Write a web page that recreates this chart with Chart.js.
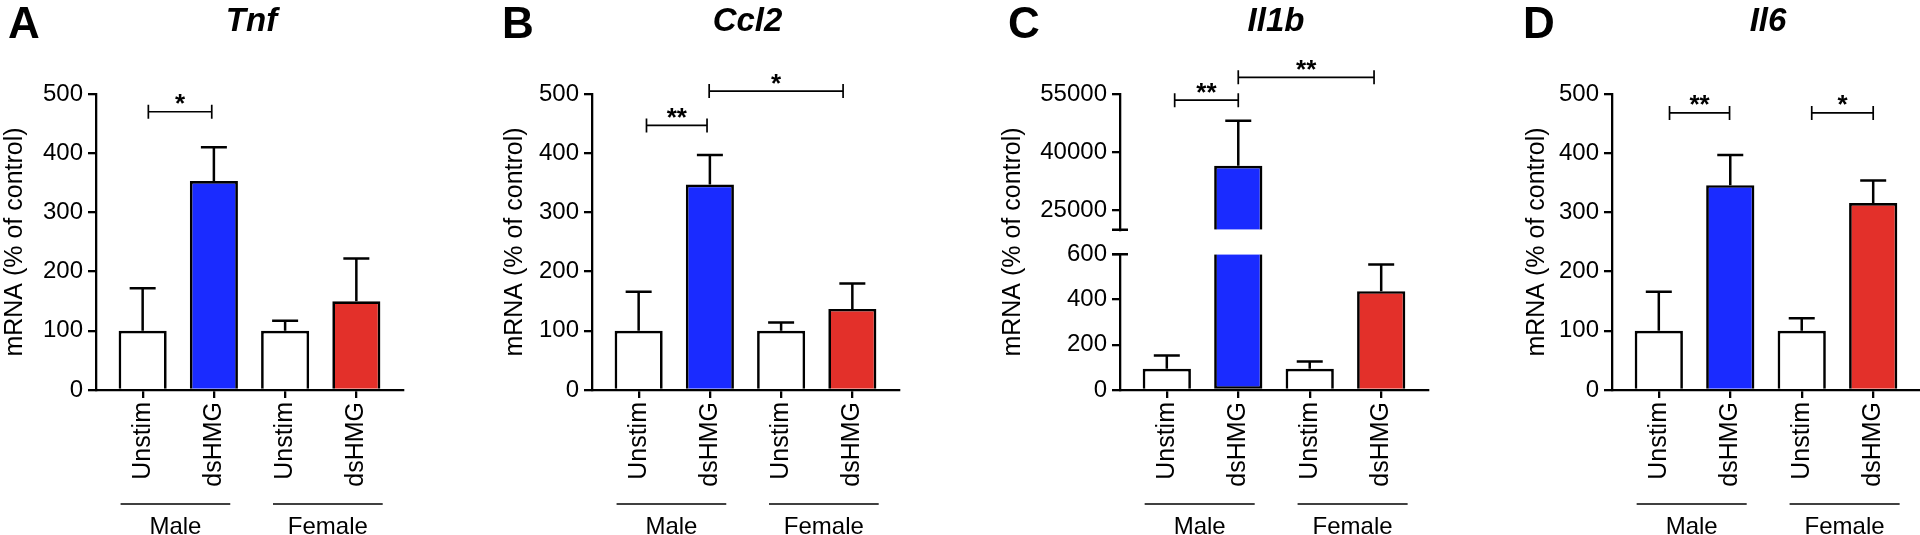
<!DOCTYPE html>
<html>
<head>
<meta charset="utf-8">
<script src="https://cdn.jsdelivr.net/npm/chart.js@4.4.1/dist/chart.umd.min.js"></script>
<style>
html,body{margin:0;padding:0;background:#fff;width:1920px;height:535px;overflow:hidden;}
.panel{position:absolute;top:0;width:480px;height:535px;}
canvas{display:block;}
</style>
</head>
<body>
<div class="panel" style="left:0px"><canvas id="cA" width="480" height="535"></canvas></div>
<div class="panel" style="left:480px"><canvas id="cB" width="480" height="535"></canvas></div>
<div class="panel" style="left:960px"><canvas id="cC" width="480" height="535"></canvas></div>
<div class="panel" style="left:1440px"><canvas id="cD" width="480" height="535"></canvas></div>
<script>
// ---------------- data ----------------
const categories = ['Unstim', 'dsHMG', 'Unstim', 'dsHMG'];
const groupLabels = ['Male', 'Female'];
const groupFrom = [-0.31, 1.83];
const groupTo = [1.23, 3.37];
const panelLetters = ['A', 'B', 'C', 'D'];
const geneNames = ['Tnf', 'Ccl2', 'Il1b', 'Il6'];
const yTitle = 'mRNA (% of control)';

const tnfMean = [100, 353, 100, 150];
const tnfSem  = [72, 57, 17, 72];
const ccl2Mean = [100, 347, 100, 137];
const ccl2Sem  = [66, 50, 14, 43];
const il1bMean = [94, 36500, 94, 437];
const il1bSem  = [59, 11600, 32, 118];
const il6Mean = [100, 346, 100, 316];
const il6Sem  = [66, 51, 21, 38];

// brackets: [fromIndex, toIndex, yValue, label]
const tnfBrackets  = [[0.08, 0.97, 470, '*']];
const ccl2Brackets = [[0.11, 0.96, 447, '**'], [0.99, 2.87, 505, '*']];
const il1bBrackets = [[0.11, 1.0, 53400, '**'], [1.0, 2.9, 59300, '**']];
const il6Brackets  = [[0.15, 0.99, 468, '**'], [2.14, 3.0, 468, '*']];

const yTicksStd = [0, 100, 200, 300, 400, 500];
const il1bLowTicks = [0, 200, 400, 600];
const il1bHighTicks = [25000, 40000, 55000];
const il1bLowRange = [0, 600];
const il1bHighRange = [20000, 55000];

// ---------------- style ----------------
const FONT = '"Liberation Sans", Arial, Helvetica, sans-serif';
const BLUE = '#1a2bff';
const RED = '#e3302a';
const barColors = ['#ffffff', BLUE, '#ffffff', RED];
const LW = 2.3;
const BAR_LW = 2.7;
const AREA_TOP = 94, AREA_BOTTOM = 390, YW = 90, XH = 100, CW = 480, CH = 535;

const layoutCfg = {
  cA: {areaL: 96,  areaR: 403, letterX: 8,  titleX: 15},
  cB: {areaL: 112, areaR: 419, letterX: 22, titleX: 35},
  cC: {areaL: 160, areaR: 468, letterX: 48, titleX: 53},
  cD: {areaL: 172, areaR: 480, letterX: 83, titleX: 97.5}
};

const extras = {
  cA: {letter: panelLetters[0], gene: geneNames[0], means: tnfMean, sems: tnfSem, brackets: tnfBrackets},
  cB: {letter: panelLetters[1], gene: geneNames[1], means: ccl2Mean, sems: ccl2Sem, brackets: ccl2Brackets},
  cC: {letter: panelLetters[2], gene: geneNames[2], means: il1bMean, sems: il1bSem, brackets: il1bBrackets, split: true},
  cD: {letter: panelLetters[3], gene: geneNames[3], means: il6Mean, sems: il6Sem, brackets: il6Brackets}
};

function pickScale(chart, e, v) {
  if (!e.split) return chart.scales.y;
  return v >= il1bHighRange[0] ? chart.scales.yTop : chart.scales.yBot;
}

const decor = {
  id: 'decor',
  afterDraw(chart) {
    const e = extras[chart.canvas.id];
    const L = layoutCfg[chart.canvas.id];
    const ctx = chart.ctx, xs = chart.scales.x, a = chart.chartArea;
    ctx.save();
    ctx.strokeStyle = '#000';
    ctx.fillStyle = '#000';
    // error bars
    ctx.lineWidth = 2.5;
    e.means.forEach((m, i) => {
      const ys = pickScale(chart, e, m);
      const px = xs.getPixelForValue(i);
      const y0 = ys.getPixelForValue(m);
      const y1 = ys.getPixelForValue(m + e.sems[i]);
      ctx.beginPath();
      ctx.moveTo(px, y0); ctx.lineTo(px, y1);
      ctx.moveTo(px - 13, y1); ctx.lineTo(px + 13, y1);
      ctx.stroke();
    });
    // axis break marks
    ctx.lineWidth = LW;
    if (e.split) {
      const xa = a.left;
      const yb1 = chart.scales.yTop.getPixelForValue(il1bHighRange[0]);
      const yb2 = chart.scales.yBot.getPixelForValue(il1bLowRange[1]);
      ctx.beginPath();
      ctx.moveTo(xa - 8, yb1); ctx.lineTo(xa + 8, yb1);
      ctx.moveTo(xa - 8, yb2); ctx.lineTo(xa + 8, yb2);
      ctx.stroke();
    }
    // significance brackets
    ctx.lineWidth = 1.7;
    ctx.textAlign = 'center';
    ctx.textBaseline = 'alphabetic';
    ctx.font = 'bold 26px ' + FONT;
    e.brackets.forEach(b => {
      const ys = pickScale(chart, e, b[2]);
      const x1 = xs.getPixelForValue(b[0]), x2 = xs.getPixelForValue(b[1]);
      const y = ys.getPixelForValue(b[2]);
      ctx.beginPath();
      ctx.moveTo(x1, y); ctx.lineTo(x2, y);
      ctx.moveTo(x1, y - 7); ctx.lineTo(x1, y + 7);
      ctx.moveTo(x2, y - 7); ctx.lineTo(x2, y + 7);
      ctx.stroke();
      ctx.fillText(b[3], (x1 + x2) / 2, y + 0.5);
    });
    // group lines and labels
    ctx.lineWidth = 1.3;
    ctx.font = '24px ' + FONT;
    groupLabels.forEach((g, i) => {
      const x1 = xs.getPixelForValue(groupFrom[i]), x2 = xs.getPixelForValue(groupTo[i]);
      const y = a.bottom + 114;
      ctx.beginPath(); ctx.moveTo(x1, y); ctx.lineTo(x2, y); ctx.stroke();
      ctx.fillText(g, (x1 + x2) / 2, a.bottom + 144);
    });
    // panel letter
    ctx.textAlign = 'left';
    ctx.font = 'bold 44px ' + FONT;
    ctx.fillText(e.letter, L.letterX, 37.5);
    // gene title
    ctx.textAlign = 'center';
    ctx.font = 'italic bold 33px ' + FONT;
    ctx.fillText(e.gene, (a.left + a.right) / 2 + 2, 30.7);
    // y title
    ctx.save();
    ctx.translate(L.titleX, (a.top + a.bottom) / 2);
    ctx.rotate(-Math.PI / 2);
    ctx.textBaseline = 'middle';
    ctx.font = '25px ' + FONT;
    ctx.fillText(yTitle, 0, 0);
    ctx.restore();
    ctx.restore();
  }
};

function gridOpts() {
  return {display: true, drawOnChartArea: false, drawTicks: true, tickLength: 8, color: '#000', lineWidth: LW, offset: false};
}
function borderOpts() {
  return {display: true, color: '#000', width: LW};
}
function xScale() {
  return {
    type: 'linear', min: -0.655, max: 3.655, offset: false,
    afterBuildTicks: s => { s.ticks = categories.map((_, i) => ({value: i})); },
    ticks: {
      callback: v => categories[v], autoSkip: false, maxRotation: 90, minRotation: 90,
      color: '#000', font: {family: FONT, size: 25}, padding: 4
    },
    grid: gridOpts(), border: borderOpts(),
    afterFit: s => { s.height = XH; }
  };
}
function yScale(ticksArr, range, extra) {
  return Object.assign({
    type: 'linear', position: 'left', min: range[0], max: range[1], offset: false,
    afterBuildTicks: s => { s.ticks = ticksArr.map(v => ({value: v})); },
    ticks: {callback: v => String(v), autoSkip: false, color: '#000', font: {family: FONT, size: 24}, padding: 5},
    grid: gridOpts(), border: borderOpts(),
    afterFit: s => { s.width = YW; }
  }, extra || {});
}
function baseOptions(id, scales) {
  const L = layoutCfg[id];
  return {
    responsive: false, animation: false, devicePixelRatio: 1, events: [],
    layout: {padding: {left: L.areaL - YW, right: CW - L.areaR, top: AREA_TOP, bottom: CH - AREA_BOTTOM - XH}},
    plugins: {legend: {display: false}, title: {display: false}, tooltip: {enabled: false}},
    scales: scales
  };
}
function barDataset(means, extra) {
  return Object.assign({
    data: means.map((v, i) => ({x: i, y: v})),
    backgroundColor: barColors, borderColor: '#000', borderWidth: BAR_LW,
    barPercentage: 0.675, categoryPercentage: 1
  }, extra || {});
}

function makeStd(id, means) {
  new Chart(document.getElementById(id), {
    type: 'bar',
    data: {datasets: [barDataset(means)]},
    options: baseOptions(id, {x: xScale(), y: yScale(yTicksStd, [0, 500])}),
    plugins: [decor]
  });
}

makeStd('cA', tnfMean);
makeStd('cB', ccl2Mean);
makeStd('cD', il6Mean);

// Il1b: broken y axis with two stacked scales
new Chart(document.getElementById('cC'), {
  type: 'bar',
  data: {datasets: [
    barDataset(il1bMean.map(v => Math.min(v, il1bLowRange[1])), {
      yAxisID: 'yBot', grouped: false,
      borderSkipped: c => il1bMean[c.dataIndex] > il1bLowRange[1] ? 'end' : 'start'
    }),
    barDataset(il1bMean.map(v => v >= il1bHighRange[0] ? v : null), {
      yAxisID: 'yTop', grouped: false, base: il1bHighRange[0]
    })
  ]},
  options: baseOptions('cC', {
    x: xScale(),
    yBot: yScale(il1bLowTicks, il1bLowRange, {stack: 'il1b', stackWeight: 135.5}),
    yGap: {type: 'linear', position: 'left', display: false, stack: 'il1b', stackWeight: 24.5},
    yTop: yScale(il1bHighTicks, il1bHighRange, {stack: 'il1b', stackWeight: 135.5})
  }),
  plugins: [decor]
});
</script>
</body>
</html>
